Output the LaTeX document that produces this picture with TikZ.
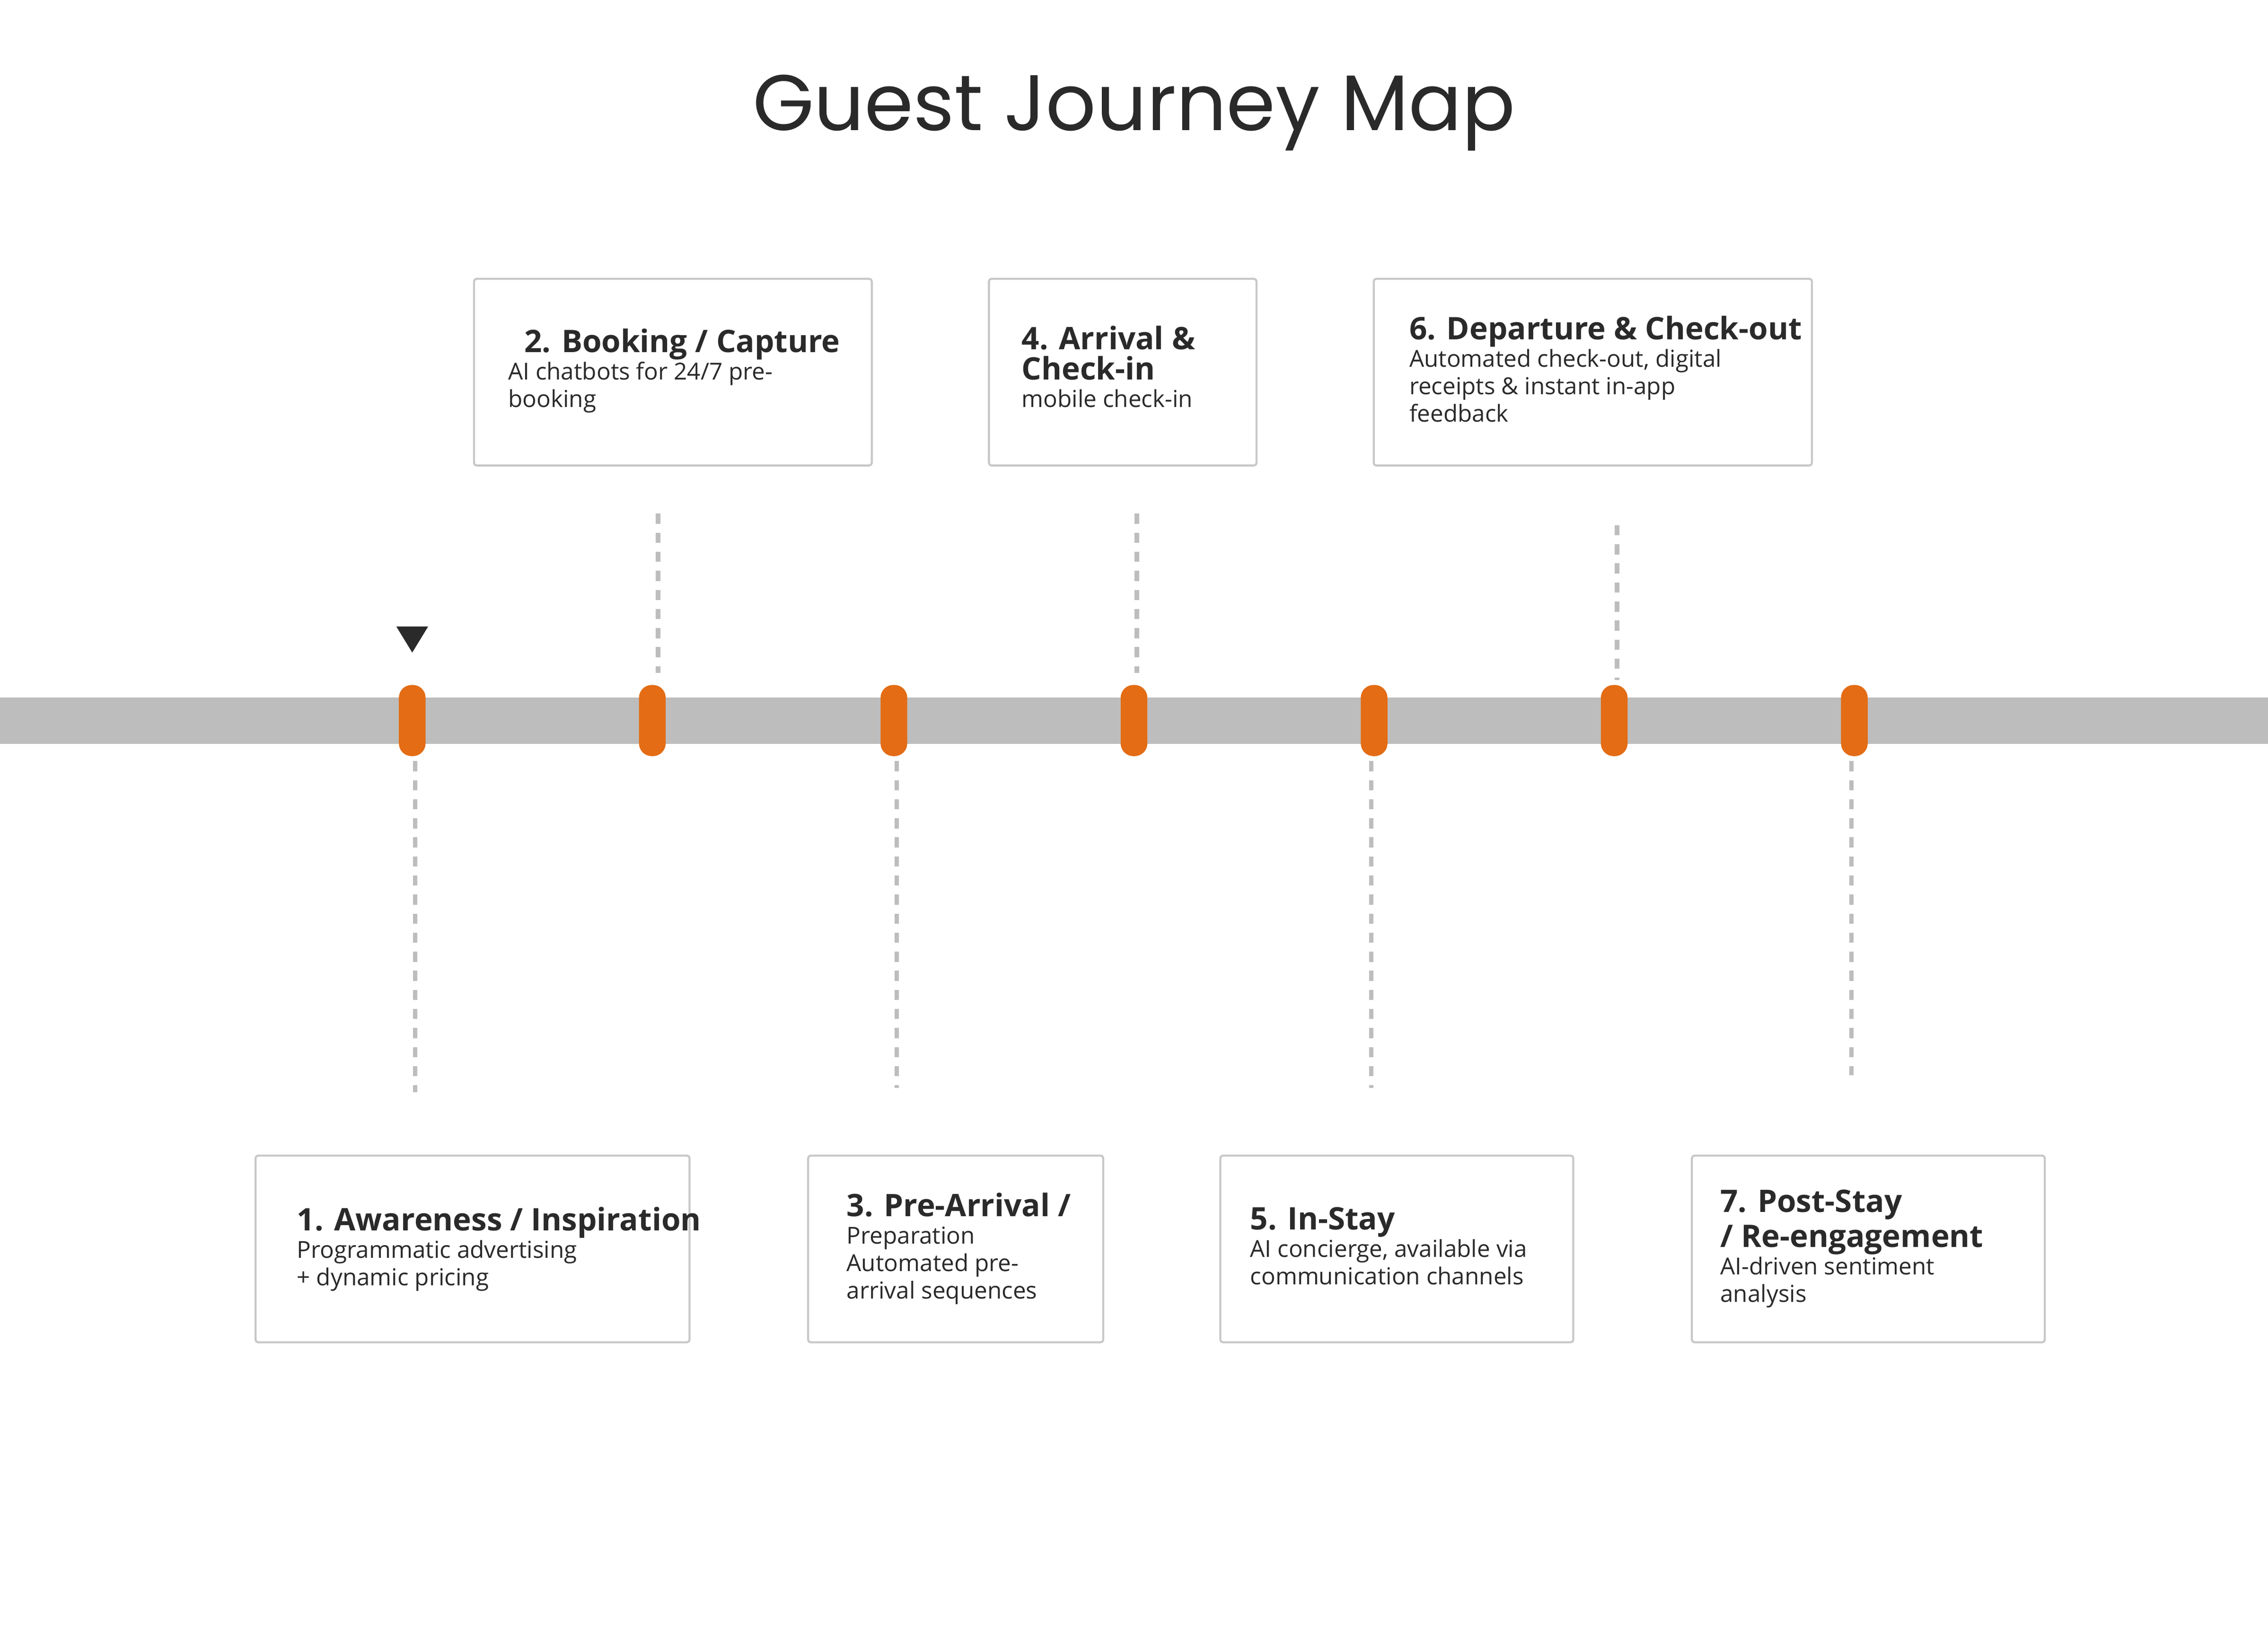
\documentclass[tikz,border=0pt]{standalone}
\usepackage{fontspec}
\setmainfont{Open Sans}
\newfontfamily\titlefont{Poppins}
\definecolor{barc}{HTML}{BDBDBD}
\definecolor{orng}{HTML}{E36C14}
\definecolor{txt}{HTML}{2A2A2A}
\definecolor{boxc}{HTML}{C8C8C8}
\begin{document}
\begin{tikzpicture}[x=0.02cm,y=-0.02cm,
  box/.style={draw=boxc,line width=0.8pt,fill=white,rounded corners=1pt,inner sep=0,anchor=north west},
  txtn/.style={anchor=north west,inner sep=0,align=left,text=txt,font=\fontsize{9.2}{10.8}\selectfont},
  mk/.style={fill=orng,rounded corners=5pt,minimum width=10.5pt,minimum height=28pt,inner sep=0},
  dsh/.style={draw=barc,line width=1.8pt,dash pattern=on 4pt off 3.5pt}]
\useasboundingbox (0,0) rectangle (1568,1130);
\node[text=txt,font=\titlefont\fontsize{31}{36}\selectfont] (title) at (784,78) {Guest Journey Map};
\fill[barc] (0,482) rectangle (1568,514);
\fill[txt] (274,433) -- (296,433) -- (285,451) -- cycle;
\foreach \i/\x in {1/285,2/451,3/618,4/784,5/950,6/1116,7/1282}{\node[mk] (m\i) at (\x,498) {};}
\newcommand\hd[1]{{\fontsize{12.2}{13}\selectfont\bfseries #1}}
% boxes
\node[box,minimum width=300*0.02cm,minimum height=129*0.02cm] (b1) at (176,798) {};
\node[box,minimum width=275*0.02cm,minimum height=129*0.02cm] (b2) at (327,192) {};
\node[box,minimum width=204*0.02cm,minimum height=129*0.02cm] (b3) at (558,798) {};
\node[box,minimum width=185*0.02cm,minimum height=129*0.02cm] (b4) at (683,192) {};
\node[box,minimum width=244*0.02cm,minimum height=129*0.02cm] (b5) at (843,798) {};
\node[box,minimum width=303*0.02cm,minimum height=129*0.02cm] (b6) at (949,192) {};
\node[box,minimum width=244*0.02cm,minimum height=129*0.02cm] (b7) at (1169,798) {};
\node[txtn] (t1) at (205,834) {\hd{1. Awareness / Inspiration}\\Programmatic advertising\\+ dynamic pricing};
\node[txtn] (t2) at (351,227) {\hd{\ \ 2. Booking / Capture}\\AI chatbots for 24/7 pre-\\booking};
\node[txtn] (t3) at (585,824) {\hd{3. Pre-Arrival /}\\Preparation\\Automated pre-\\arrival sequences};
\node[txtn] (t4) at (706,225) {\hd{4. Arrival \&}\\[1pt]\hd{Check-in}\\mobile check-in};
\node[txtn] (t5) at (864,834) {\hd{5. In-Stay}\\AI concierge, available via\\communication channels};
\node[txtn] (t6) at (974,218) {\hd{6. Departure \& Check-out}\\Automated check-out, digital\\receipts \& instant in-app\\feedback};
\node[txtn] (t7) at (1189,822) {\hd{7. Post-Stay}\\[1pt]\hd{/ Re-engagement}\\AI-driven sentiment\\analysis};
% dashed connectors
\coordinate (c2) at (455,355); \coordinate (c4) at (786,355); \coordinate (c6) at (1118,363);
\coordinate (c1) at (287,755); \coordinate (c3) at (620,752); \coordinate (c5) at (948,752); \coordinate (c7) at (1280,743);
\draw[dsh] (c2) -- (455,465);
\draw[dsh] (c4) -- (786,465);
\draw[dsh] (c6) -- (1118,470);
\draw[dsh] (287,526) -- (c1);
\draw[dsh] (620,526) -- (c3);
\draw[dsh] (948,526) -- (c5);
\draw[dsh] (1280,526) -- (c7);
\end{tikzpicture}
\end{document}
